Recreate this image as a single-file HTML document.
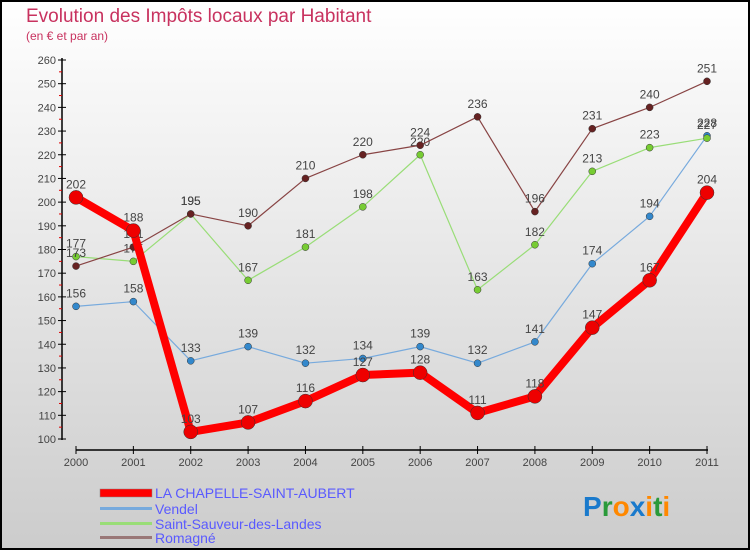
<!DOCTYPE html>
<html><head><meta charset="utf-8"><style>
body{margin:0}
#c{width:750px;height:550px;position:relative;font-family:"Liberation Sans",sans-serif}
</style></head><body>
<div id="c">
<svg id="s" width="750" height="550" xmlns="http://www.w3.org/2000/svg">
<defs><linearGradient id="bg" x1="0" y1="0" x2="0" y2="1"><stop offset="0" stop-color="#ffffff"/><stop offset="1" stop-color="#cccccc"/></linearGradient></defs>
<rect x="1" y="1" width="748" height="548" fill="url(#bg)" stroke="#000" stroke-width="2"/>
<text x="26" y="22" font-size="19" fill="#c8325f">Evolution des Impôts locaux par Habitant</text>
<text x="26" y="40" font-size="12" fill="#c8325f">(en € et par an)</text>
<g id="g"></g>
<g>
<rect x="100" y="489" width="52" height="8" fill="#ff0000" stroke="#888" stroke-width="0.5"/>
<text x="155" y="498" font-size="14" fill="#5a5aff">LA CHAPELLE-SAINT-AUBERT</text>
<rect x="100" y="507" width="52" height="3" fill="#77aadd"/>
<text x="155" y="514" font-size="14" fill="#5a5aff">Vendel</text>
<rect x="100" y="522" width="52" height="3" fill="#99dd77"/>
<text x="155" y="529" font-size="14" fill="#5a5aff">Saint-Sauveur-des-Landes</text>
<rect x="100" y="536" width="52" height="3" fill="#997777"/>
<text x="155" y="543" font-size="14" fill="#5a5aff">Romagné</text>
</g>
<g font-size="28" font-weight="bold">
<text x="583" y="516"><tspan fill="#1a7acc">P</tspan><tspan fill="#2a9a3a">r</tspan><tspan fill="#ff8800">o</tspan><tspan fill="#1a7acc">x</tspan><tspan fill="#ff8800">i</tspan><tspan fill="#2a9a3a">t</tspan><tspan fill="#ff8800">i</tspan></text>
</g>
</svg>
</div>
<script>
const years=["2000","2001","2002","2003","2004","2005","2006","2007","2008","2009","2010","2011"];
const yTicks=[100,110,120,130,140,150,160,170,180,190,200,210,220,230,240,250,260];
const chapelle=[202,188,103,107,116,127,128,111,118,147,167,204];
const vendel=[156,158,133,139,132,134,139,132,141,174,194,228];
const ssdl=[177,175,195,167,181,198,220,163,182,213,223,227];
const romagne=[173,181,195,190,210,220,224,236,196,231,240,251];
const NS="http://www.w3.org/2000/svg";
const g=document.getElementById('g');
const X=i=>76+i*(707-76)/11;
const Y=v=>439-(v-100)*(439-60)/160;
function mk(t,a,p){const e=document.createElementNS(NS,t);for(const k in a)e.setAttribute(k,a[k]);(p||g).appendChild(e);return e;}
// axes
let ax=mk('line',{x1:62,y1:58,x2:62,y2:440,stroke:'#000','stroke-width':1.5});


let xa=mk('line',{x1:76,y1:450,x2:708,y2:450,stroke:'#000','stroke-width':1.5});


yTicks.forEach(v=>{
 mk('line',{x1:58,y1:Y(v),x2:66,y2:Y(v),stroke:'#000'});
 if(v<260)mk('line',{x1:59,y1:Y(v+5),x2:62,y2:Y(v+5),stroke:'#d00'});
 const t=mk('text',{x:56,y:Y(v)+4,'font-size':11,fill:'#444','text-anchor':'end'});
 t.textContent=v;
 
 
});
years.forEach((y,i)=>{
 mk('line',{x1:X(i),y1:446,x2:X(i),y2:454,stroke:'#000'});
 const t=mk('text',{x:X(i),y:466,'font-size':11,fill:'#444','text-anchor':'middle'});
 t.textContent=y;
 
 
});
function series(d,col,dot,w,r,name){
 const p=mk('polyline',{points:d.map((v,i)=>X(i)+','+Y(v)).join(' '),fill:'none',stroke:col,'stroke-width':w,'stroke-linejoin':'round'});
 
 
 d.forEach((v,i)=>{
  const c=mk('circle',{cx:X(i),cy:Y(v),r:r,fill:dot,stroke:'#333','stroke-width':0.5});
  
  
  const t=mk('text',{x:X(i),y:Y(v)-9,'font-size':12,fill:'#444','text-anchor':'middle'});
  t.textContent=v;
  
  
 });
}
series(vendel,'#77aadd','#3388cc',1.2,3.5,'vendel');
series(ssdl,'#99dd77','#77cc33',1.2,3.5,'ssdl');
series(romagne,'#884444','#662222',1.2,3.5,'romagne');
series(chapelle,'#ff0000','#ee0000',8,7,'chapelle');
</script>
</body></html>
